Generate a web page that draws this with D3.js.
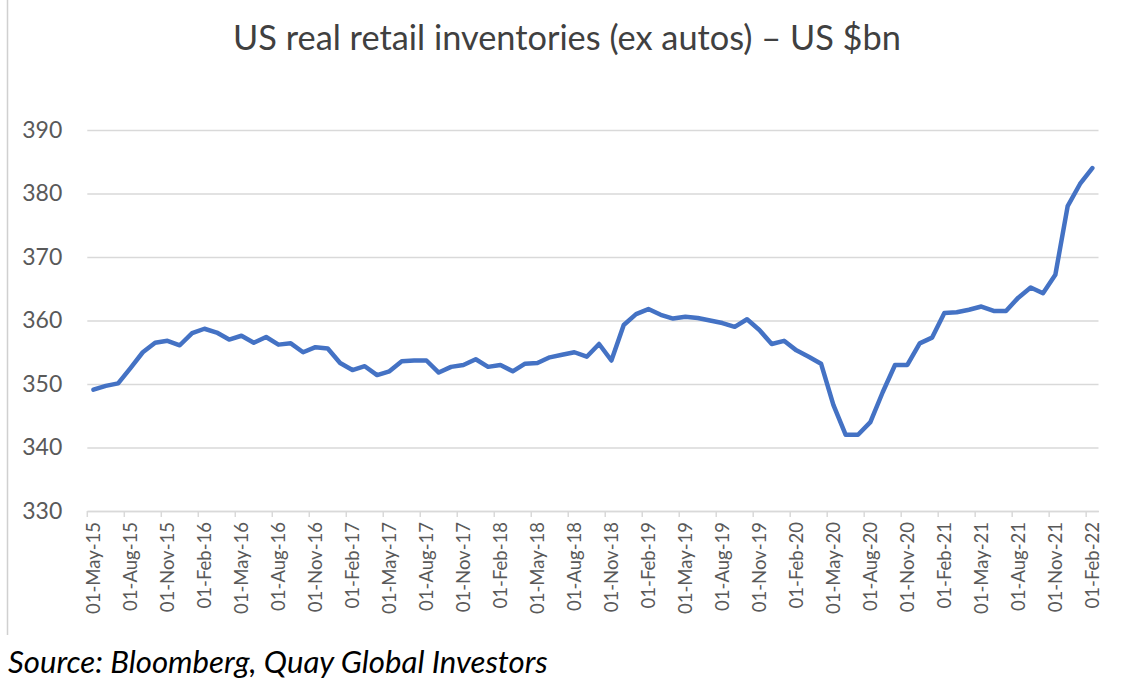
<!DOCTYPE html>
<html>
<head>
<meta charset="utf-8">
<script src="https://cdn.jsdelivr.net/npm/d3@7"></script>
<style>
  html, body { margin: 0; padding: 0; background: #fff; }
  svg { display: block; }
</style>
</head>
<body>
<script>
// monthly categories, 01-May-15 .. 01-Feb-22
const months = d3.timeMonth.range(new Date(2015, 4, 1), new Date(2022, 2, 1));

// US real retail inventories ex autos, US$bn
const inventories = [
  349.1, 349.7, 350.1, 352.5, 355.0, 356.5, 356.8, 356.1, 358.0, 358.7,
  358.1, 357.0, 357.6, 356.5, 357.4, 356.2, 356.4, 355.0, 355.8, 355.6,
  353.3, 352.2, 352.8, 351.4, 352.0, 353.6, 353.7, 353.7, 351.8, 352.7,
  353.0, 353.9, 352.7, 353.0, 352.0, 353.2, 353.3, 354.2, 354.6, 355.0,
  354.3, 356.3, 353.7, 359.3, 361.0, 361.8, 360.9, 360.3, 360.6, 360.4,
  360.0, 359.6, 359.0, 360.2, 358.5, 356.3, 356.8, 355.3, 354.3, 353.2,
  346.7, 342.0, 342.0, 344.0, 348.7, 353.0, 353.0, 356.4, 357.3, 361.2,
  361.3, 361.7, 362.2, 361.5, 361.5, 363.6, 365.2, 364.3, 367.2, 378.0,
  381.5, 384.0
];

const yTicks = [330, 340, 350, 360, 370, 380, 390];
const titleText = "US real retail inventories (ex autos) \u2013 US $bn";
const sourceText = "Source: Bloomberg, Quay Global Investors";

const W = 1132, H = 698;
const plot = { left: 87.3, right: 1098.5, top: 130, bottom: 511 };
const fmt = d3.timeFormat("%d-%b-%y");

const svg = d3.select("body").append("svg")
  .attr("width", W)
  .attr("height", H);

// chart frame edge on the left
svg.append("line")
  .attr("x1", 7.5).attr("x2", 7.5)
  .attr("y1", 0).attr("y2", 635)
  .attr("stroke", "#d0d0d0")
  .attr("stroke-width", 1.5);

const x = d3.scaleBand()
  .domain(months)
  .range([plot.left, plot.right])
  .padding(0);

const y = d3.scaleLinear()
  .domain([330, 390])
  .range([plot.bottom, plot.top]);

// y axis + gridlines
const yAxis = svg.append("g")
  .attr("transform", `translate(${plot.left},0)`)
  .call(d3.axisLeft(y)
    .tickValues(yTicks)
    .tickSize(-(plot.right - plot.left))
    .tickPadding(25));
yAxis.select(".domain").remove();
yAxis.selectAll(".tick line")
  .attr("stroke", "#d9d9d9")
  .attr("stroke-width", 1.5);
yAxis.selectAll(".tick text")
  .attr("fill", "#595959")
  .style("font-family", "Lato, 'Open Sans', sans-serif")
  .style("font-size", "23px");

// x axis labels, every 3rd month
const labelMonths = months.filter((d, i) => i % 3 === 0);
const xAxis = svg.append("g")
  .attr("transform", `translate(0,${plot.bottom})`)
  .call(d3.axisBottom(x)
    .tickValues(labelMonths)
    .tickFormat(fmt)
    .tickSize(0));
xAxis.select(".domain")
  .attr("stroke", "#d9d9d9")
  .attr("stroke-width", 1.5);
xAxis.selectAll(".tick text")
  .attr("transform", "rotate(-90)")
  .attr("text-anchor", "end")
  .attr("x", -11)
  .attr("y", 0)
  .attr("dy", "0.35em")
  .attr("fill", "#595959")
  .style("font-family", "Lato, 'Open Sans', sans-serif")
  .style("font-size", "18.5px");

// tick marks sit on category boundaries
svg.append("g")
  .selectAll("line")
  .data(labelMonths)
  .join("line")
  .attr("x1", d => x(d))
  .attr("x2", d => x(d))
  .attr("y1", plot.bottom)
  .attr("y2", plot.bottom + 6)
  .attr("stroke", "#d9d9d9")
  .attr("stroke-width", 1.5);

// the series
const line = d3.line()
  .x((d, i) => x(months[i]) + x.bandwidth() / 2)
  .y(d => y(d));

svg.append("path")
  .datum(inventories)
  .attr("d", line)
  .attr("fill", "none")
  .attr("stroke", "#4472c4")
  .attr("stroke-width", 4.5)
  .attr("stroke-linejoin", "round")
  .attr("stroke-linecap", "round");

// fit a text element to a target width by adjusting its font size
function fitWidth(sel, target) {
  const size = parseFloat(sel.style("font-size"));
  const w = sel.node().getComputedTextLength();
  if (w > 0) sel.style("font-size", (size * target / w) + "px");
}

const title = svg.append("text")
  .attr("x", 567)
  .attr("y", 50)
  .attr("text-anchor", "middle")
  .attr("fill", "#404040")
  .style("font-family", "Lato, 'Open Sans', sans-serif")
  .style("font-weight", 400)
  .style("font-size", "30px")
  .text(titleText);
fitWidth(title, 668);

const source = svg.append("text")
  .attr("x", 8)
  .attr("y", 673)
  .attr("fill", "#000")
  .style("font-family", "Lato, 'Open Sans', sans-serif")
  .style("font-style", "italic")
  .style("font-size", "28px")
  .text(sourceText);
fitWidth(source, 540);
</script>
</body>
</html>
